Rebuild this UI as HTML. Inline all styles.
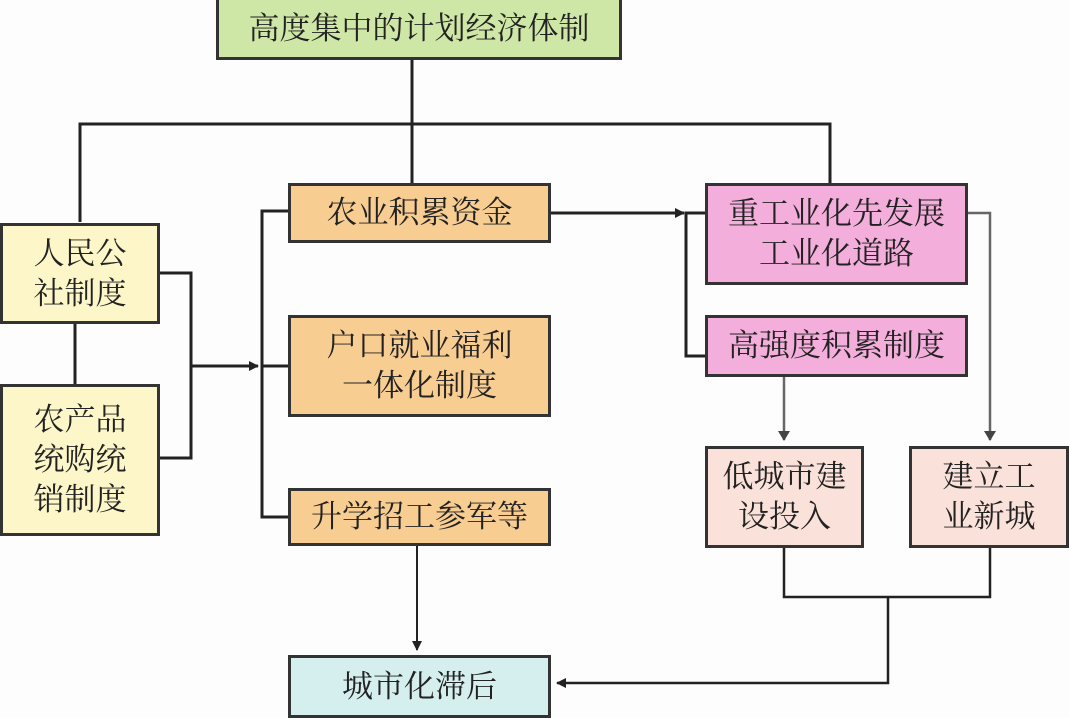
<!DOCTYPE html>
<html><head><meta charset="utf-8"><style>
body{margin:0;width:1069px;height:715px;background:#fdfdfd;overflow:hidden;position:relative;font-family:"Liberation Serif","Noto Serif CJK SC",serif;}
.b{position:absolute;box-sizing:border-box;border:3px solid #333;display:flex;align-items:center;justify-content:center;text-align:center;font-size:31px;line-height:40px;color:#222;}
svg{position:absolute;left:0;top:0}
</style></head><body>
<svg width="1069" height="715">
<defs><marker id="a" markerWidth="10" markerHeight="10" refX="9" refY="5" orient="auto" markerUnits="userSpaceOnUse"><path d="M0,0 L10,5 L0,10 z" fill="#222"/></marker>
<marker id="g" markerWidth="10" markerHeight="12" refX="9" refY="6" orient="auto" markerUnits="userSpaceOnUse"><path d="M0,0 L10,6 L0,12 z" fill="#444"/></marker></defs>
<g stroke="#222" stroke-width="3" fill="none">
<path d="M412 60 V185 M80 222 V124 H830 V183"/>
<path d="M75 323 V384"/>
<path d="M160 273 H191 V458 H160 M191 366 H258" marker-end="url(#a)"/>
<path d="M288 211 H262 V517 H288 M262 366 H288"/>
<path d="M551 213 H684" marker-end="url(#a)"/>
<path d="M705 213 H686 V356 H705"/>
<path d="M417 545 V650" stroke-width="2" marker-end="url(#a)"/>
<path d="M784 547 V597 H990 V547 M888 597 V683 H557" stroke-width="2.5" marker-end="url(#a)"/>
</g>
<g stroke="#666" stroke-width="2.5" fill="none">
<path d="M968 213 H990 V440" marker-end="url(#g)"/>
<path d="M784 376 V440" marker-end="url(#g)"/>
</g>
</svg>
<div class="b" style="left:216px;top:-3px;width:406px;height:63px;background:#cfe7a6;">高度集中的计划经济体制</div>
<div class="b" style="left:0;top:223px;width:160px;height:101px;background:#fcf6c9;">人民公<br>社制度</div>
<div class="b" style="left:0;top:384px;width:160px;height:152px;background:#fcf6c9;">农产品<br>统购统<br>销制度</div>
<div class="b" style="left:288px;top:183px;width:263px;height:60px;background:#f8cd92;">农业积累资金</div>
<div class="b" style="left:288px;top:315px;width:263px;height:102px;background:#f8cd92;">户口就业福利<br>一体化制度</div>
<div class="b" style="left:288px;top:488px;width:263px;height:58px;background:#f8cd92;">升学招工参军等</div>
<div class="b" style="left:705px;top:183px;width:263px;height:102px;background:#f3aedb;">重工业化先发展<br>工业化道路</div>
<div class="b" style="left:705px;top:315px;width:263px;height:62px;background:#f3aedb;">高强度积累制度</div>
<div class="b" style="left:705px;top:446px;width:159px;height:102px;background:#fae1da;">低城市建<br>设投入</div>
<div class="b" style="left:909px;top:446px;width:160px;height:102px;background:#fae1da;">建立工<br>业新城</div>
<div class="b" style="left:288px;top:655px;width:263px;height:63px;background:#d5eeee;">城市化滞后</div>
</body></html>
